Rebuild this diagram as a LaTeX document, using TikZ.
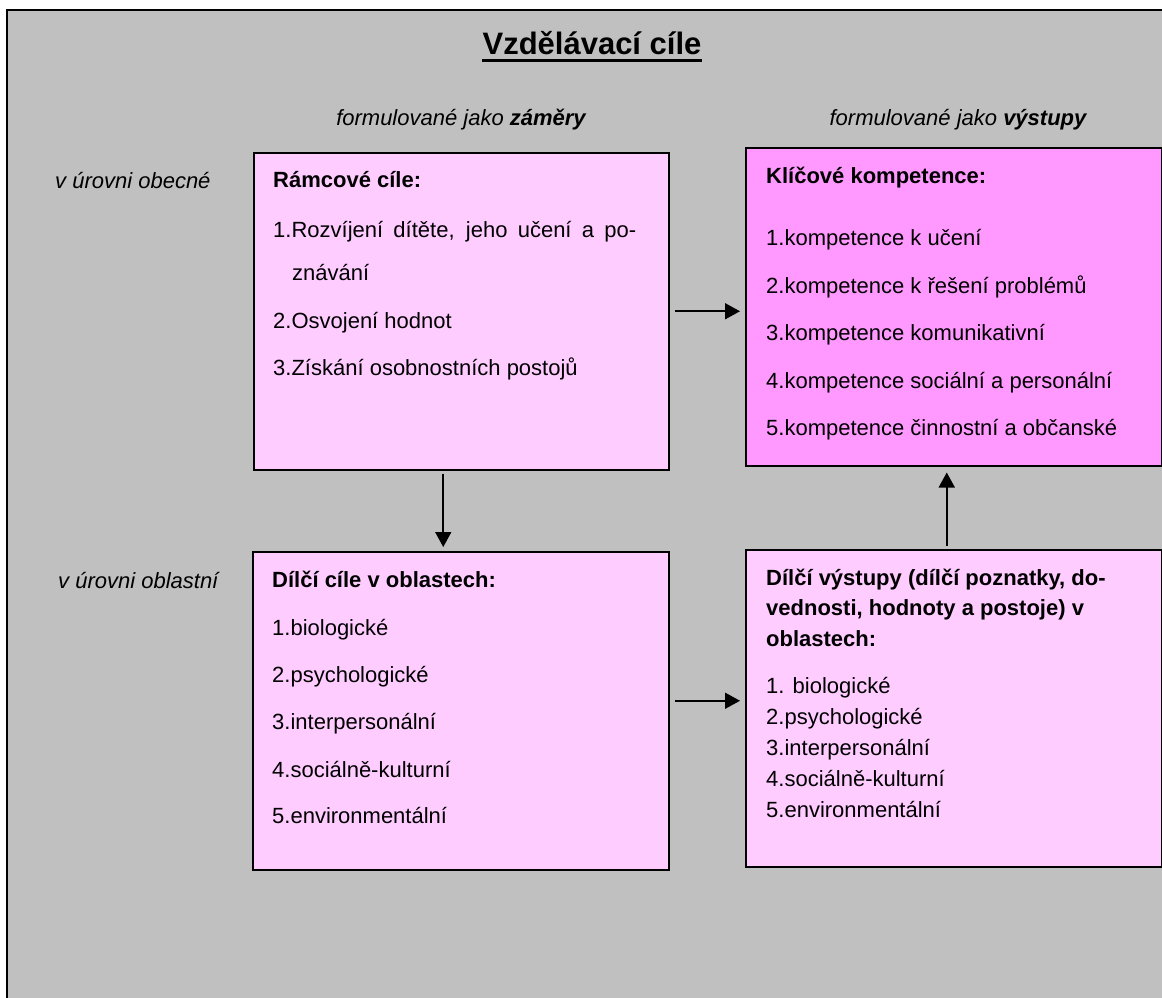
\documentclass[tikz,border=0pt]{standalone}
\usepackage{fontspec}
\setmainfont{Liberation Sans}
\usepackage{tikz}
\usetikzlibrary{arrows.meta}
\definecolor{bggray}{HTML}{C0C0C0}
\definecolor{pale}{HTML}{FFCCFF}
\definecolor{pink}{HTML}{FF99FF}
\begin{document}
\begin{tikzpicture}
      [
        x=1pt, y=-1pt,
        frame/.style={draw=black, line width=1.5pt, fill=pale, inner sep=0pt, anchor=north west},
        txt/.style={anchor=base west, inner sep=0pt, font=\fontsize{22}{26}\selectfont},
        hdr/.style={txt, font=\fontsize{22}{26}\selectfont\bfseries},
        side/.style={txt, font=\fontsize{22}{26}\selectfont\itshape},
        link/.style={line width=1.6pt, -{Triangle[length=15pt,width=16pt]}}
      ]
      \useasboundingbox (0,0) rectangle (1162,998);
      % background
      \fill[bggray] (7,10) rectangle (1180,1010);
      \draw[line width=2pt] (7,1010) -- (7,10) -- (1180,10);
      % title
      \node[inner sep=0pt, anchor=base, font=\fontsize{31}{36}\selectfont\bfseries] (title) at (592,55) {Vzdělávací cíle};
      \draw[line width=2.5pt] ([yshift=-5.5pt]title.base west) -- ([yshift=-5.5pt]title.base east);
      \node[side, anchor=base] (zamery) at (461,125) {formulované jako \textbf{záměry}};
      \node[side, anchor=base] (vystupy) at (958,125) {formulované jako \textbf{výstupy}};
      \node[side] (obecne) at (55,188) {v úrovni obecné};
      \node[side] (oblastni) at (58,588) {v úrovni oblastní};
      % boxes
      \node[frame, minimum width=415pt, minimum height=317pt] (ramcove) at (253,152) {};
      \node[frame, fill=pink, minimum width=416pt, minimum height=318pt] (klicove) at (745,147) {};
      \node[frame, minimum width=416pt, minimum height=318pt] (dilcicile) at (252,551) {};
      \node[frame, minimum width=416pt, minimum height=317pt] (dilcivystupy) at (745,549) {};
      % framework goals
      \node[hdr] (ramcovetitle) at (273,187) {Rámcové cíle:};
      \node[txt] (ramcove1) at (273,237) {\makebox[363pt][s]{1.Rozvíjení dítěte, jeho učení a po-}};
      \node[txt] (ramcove1b) at (292,280) {znávání};
      \node[txt] (ramcove2) at (273,328) {2.Osvojení hodnot};
      \node[txt] (ramcove3) at (273,375) {3.Získání osobnostních postojů};
      % key competences
      \node[hdr] (klicovetitle) at (766,183) {Klíčové kompetence:};
      \foreach \t/\y [count=\i] in {{kompetence k učení}/245, {kompetence k řešení problémů}/293,
          {kompetence komunikativní}/340, {kompetence sociální a personální}/388,
          {kompetence činnostní a občanské}/435} {
          \node[txt] (klicove\i) at (766,\y) {\i.\t};
      }
      % partial goals
      \node[hdr] (dilcicoletitle) at (272,587) {Dílčí cíle v oblastech:};
      \foreach \t/\y [count=\i] in {biologické/635, psychologické/682, interpersonální/729,
          sociálně-kulturní/777, environmentální/823} {
          \node[txt] (dilcicile\i) at (272,\y) {\i.\t};
      }
      % partial outcomes
      \node[hdr] (vystupytitle1) at (766,585) {Dílčí výstupy (dílčí poznatky, do-};
      \node[hdr] (vystupytitle2) at (766,615) {vednosti, hodnoty a postoje) v};
      \node[hdr] (vystupytitle3) at (766,646) {oblastech:};
      \foreach \t/\y [count=\i] in {{ biologické}/693, psychologické/724, interpersonální/755,
          sociálně-kulturní/786, environmentální/817} {
          \node[txt] (dilcivystupy\i) at (766,\y) {\i.\t};
      }
      % arrows
      \draw[link, shorten <=5pt, shorten >=5pt] (ramcove.east) -- (ramcove.east -| klicove.west);
      \draw[link, shorten <=3pt, shorten >=4pt] ([xshift=-18pt]ramcove.south) -- ([xshift=-18pt]ramcove.south |- dilcicile.north);
      \draw[link, shorten <=5pt, shorten >=5pt] ([yshift=10pt]dilcicile.east) -- ([yshift=10pt]dilcicile.east -| dilcivystupy.west);
      \draw[link, shorten <=3pt, shorten >=6pt] ([xshift=-7pt]dilcivystupy.north) -- ([xshift=-7pt]dilcivystupy.north |- klicove.south);
\end{tikzpicture}
\end{document}
